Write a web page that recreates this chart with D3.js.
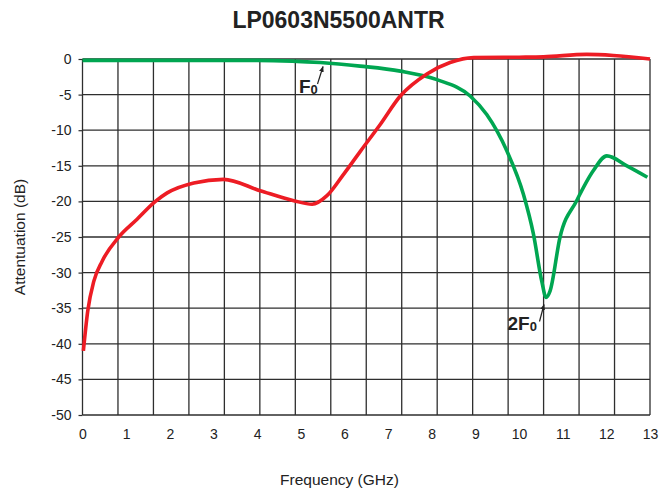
<!DOCTYPE html>
<html lang="en">
<head>
	<meta charset="UTF-8">
	<title>LP0603N5500ANTR</title>
	<style>
		body {
			margin: 0;
			background: #fff;
			font-family: "Liberation Sans", Arial, sans-serif;
		}
		.tick text {
			font-size: 14px;
			fill: #222;
		}
		.grid line {
			stroke: #2e2e2e;
			stroke-width: 1.3;
		}
		.note {
			font-weight: bold;
			fill: #222;
		}
	</style>
</head>
<body>
<svg></svg>
<script src="https://cdnjs.cloudflare.com/ajax/libs/d3/7.8.5/d3.min.js"></script>
<script>
	const width = 660,
		height = 489;
	const margin = {top: 59, left: 82.5, right: 10, bottom: 74};

	// values
	const redFreq = [0.02, 0.12, 0.26, 0.45, 0.83, 1.25, 1.67, 1.94, 2.55, 3.23, 4.07, 4.84, 5.26, 5.6, 5.98, 6.36, 6.82, 7.28, 7.89, 8.42, 8.96, 10.0, 10.56, 11.55, 12.16, 13];
	const redDb   = [-41, -35.4, -31.2, -28.4, -25, -22.5, -20, -18.8, -17.4, -16.9, -18.5, -19.9, -20.4, -19.2, -16.2, -13, -9.2, -5.2, -2.1, -0.5, 0.2, 0.25, 0.3, 0.65, 0.5, 0];
	const greenFreq = [0, 1, 2, 3, 4, 4.8, 5.45, 6.36, 7.28, 8.12, 8.88, 9.26, 9.72, 10.1, 10.33, 10.52, 10.62, 10.71, 10.94, 11.32, 11.7, 12.01, 12.47, 12.94];
	const greenDb   = [-0.2, -0.2, -0.2, -0.2, -0.2, -0.3, -0.5, -1.0, -1.7, -2.9, -5.2, -7.8, -12.9, -19, -24.6, -31.2, -33.5, -32.6, -25, -19.9, -15.7, -13.6, -15, -16.6];
	const xTicks = d3.range(0, 14);
	const yTicks = d3.range(-50, 1, 5);
	const gridCols = 16;

	const svg = d3.select('svg')
		.attr('width', width)
		.attr('height', height);

	const x = d3.scaleLinear().domain([0, 13]).range([margin.left, 650]);
	const y = d3.scaleLinear().domain([-50, 0]).range([415, margin.top]);

	// grid
	const grid = svg.append('g').attr('class', 'grid');
	grid.selectAll('.h')
		.data(yTicks)
		.enter().append('line')
		.attr('x1', x(0)).attr('x2', x(13))
		.attr('y1', d => y(d)).attr('y2', d => y(d));
	grid.selectAll('.v')
		.data(d3.range(gridCols + 1))
		.enter().append('line')
		.attr('x1', i => x(13 * i / gridCols)).attr('x2', i => x(13 * i / gridCols))
		.attr('y1', y(0)).attr('y2', y(-50));

	// axes
	svg.append('g')
		.attr('transform', `translate(${x(0)},0)`)
		.call(d3.axisLeft(y).tickValues(yTicks).tickSize(4).tickPadding(7).tickFormat(d => String(d)))
		.call(g => g.select('.domain').remove())
		.call(g => g.selectAll('.tick line').attr('stroke', '#2e2e2e').attr('stroke-width', 1.2))
		.selectAll('text').attr('font-family', null);

	svg.append('g')
		.attr('transform', `translate(0,${y(-50)})`)
		.call(d3.axisBottom(x).tickValues(xTicks).tickSize(0).tickPadding(14).tickFormat(d => String(d)))
		.call(g => g.select('.domain').remove())
		.selectAll('text').attr('font-family', null);

	// curves
	const line = d3.line()
		.x(d => x(d[0]))
		.y(d => y(d[1]))
		.curve(d3.curveMonotoneX);

	svg.append('path')
		.datum(greenFreq.map((f, i) => [f, greenDb[i]]))
		.attr('fill', 'none')
		.attr('stroke', '#00a651')
		.attr('stroke-width', 3.6)
		.attr('stroke-linejoin', 'round')
		.attr('d', line);

	svg.append('path')
		.datum(redFreq.map((f, i) => [f, redDb[i]]))
		.attr('fill', 'none')
		.attr('stroke', '#ed1c24')
		.attr('stroke-width', 3.6)
		.attr('stroke-linejoin', 'round')
		.attr('d', line);

	// annotations
	svg.append('defs').append('marker')
		.attr('id', 'arrow')
		.attr('viewBox', '0 0 10 10')
		.attr('refX', 9).attr('refY', 5)
		.attr('markerWidth', 5).attr('markerHeight', 5)
		.attr('orient', 'auto')
		.append('path').attr('d', 'M0,1 L10,5 L0,9 Z').attr('fill', '#222');

	function note(tx, ty, pre, ax1, ay1, ax2, ay2) {
		const t = svg.append('text')
			.attr('class', 'note')
			.attr('x', tx).attr('y', ty)
			.attr('font-size', 19);
		t.append('tspan').text(pre + 'F');
		t.append('tspan').attr('font-size', 13).attr('dy', 1).text('0');
		svg.append('line')
			.attr('x1', ax1).attr('y1', ay1)
			.attr('x2', ax2).attr('y2', ay2)
			.attr('stroke', '#222')
			.attr('stroke-width', 1.2)
			.attr('marker-end', 'url(#arrow)');
	}
	note(299, 93, '', 317.5, 84, 323, 66.5);
	note(507.5, 330, '2', 539.5, 321.5, 544, 304.5);

	// titles
	svg.append('text')
		.attr('x', 338.5).attr('y', 27.5)
		.attr('text-anchor', 'middle')
		.attr('font-size', 23)
		.attr('font-weight', 'bold')
		.attr('fill', '#222')
		.text('LP0603N5500ANTR');

	svg.append('text')
		.attr('x', 339.5).attr('y', 485)
		.attr('text-anchor', 'middle')
		.attr('font-size', 15.5)
		.attr('fill', '#222')
		.text('Frequency (GHz)');

	svg.append('text')
		.attr('transform', 'translate(25,237) rotate(-90)')
		.attr('text-anchor', 'middle')
		.attr('font-size', 15.5)
		.attr('fill', '#222')
		.text('Attentuation (dB)');
</script>
</body>
</html>
